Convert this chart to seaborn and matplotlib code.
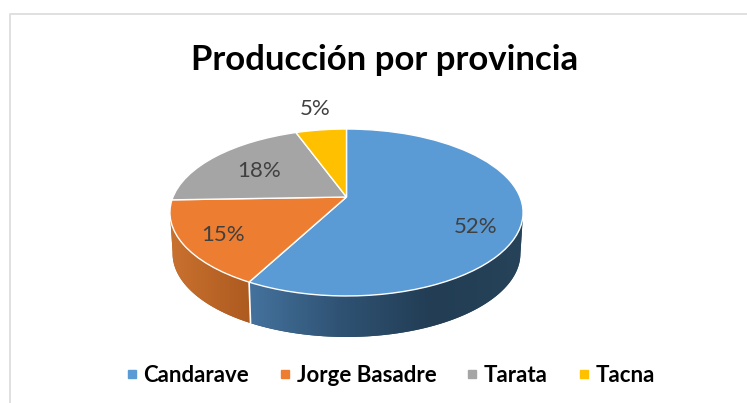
import numpy as np
import matplotlib
matplotlib.use("Agg")
import matplotlib.pyplot as plt
from matplotlib.lines import Line2D
from matplotlib.transforms import Transform
import seaborn as sns

title = "Producción por provincia"
provincias = ["Candarave", "Jorge Basadre", "Tarata", "Tacna"]
porcentajes = [52, 15, 18, 5]
colores = ["#5B9BD5", "#ED7D31", "#A5A5A5", "#FFC000"]

# where the percent labels sit, in pixels
label_pos = [(476, 227), (223, 235), (259, 171), (315, 109)]

sns.set_theme(style="white")
plt.rcParams["font.family"] = ["Lato", "DejaVu Sans"]

CX, CY = 346.5, 197      # pie apex in pixels
RX, RY, K = 173.5, 80.6, 0.1856   # tilt of the disc
DEPTH = 41


class Tilt(Transform):
    # unit circle -> tilted disc, in pixels
    input_dims = 2
    output_dims = 2

    def transform_non_affine(self, values):
        values = np.asarray(values, dtype=float)
        w = 1 + K * values[:, 1]
        return np.column_stack([CX + RX * values[:, 0] / w, CY - RY * values[:, 1] / w])


tilt = Tilt()


def rim(a0, a1, lower=False):
    t = np.radians(np.linspace(a0, a1, 80))
    xy = tilt.transform_non_affine(np.column_stack([np.cos(t), np.sin(t)]))
    if lower:
        xy[:, 0] = CX + 0.985 * (xy[:, 0] - CX)
        xy[:, 1] += DEPTH
    return xy


def wall(a0, a1, shades, x0, x1):
    xy = np.vstack([rim(a0, a1), rim(a1, a0, lower=True)])
    patch = ax.fill(xy[:, 0], xy[:, 1], color=shades[-1], lw=0, zorder=1)[0]
    img = ax.imshow(np.linspace(0, 1, 256)[None, :], cmap=sns.blend_palette(shades, as_cmap=True),
                    extent=(x0, x1, 345, 190), aspect="auto", zorder=1.5)
    img.set_clip_path(patch)


fig, ax = plt.subplots(figsize=(7.47, 4.03), dpi=100)
fig.subplots_adjust(0, 0, 1, 1)

wedges, _ = ax.pie(porcentajes, colors=sns.color_palette(colores), startangle=90, counterclock=False,
                   wedgeprops={"edgecolor": "white", "linewidth": 1.0, "zorder": 3})
for w in wedges:
    w.set_transform(tilt + ax.transData)

# side of the disc, only the two front slices show
corte = 90 - 360 * porcentajes[0] / sum(porcentajes)
wall(corte, -11, ["#44729D", "#2F5273", "#223D54", "#264359"], 250, 523)
wall(-170, corte, ["#C9712F", "#AD5A20"], 170, 252)
borde = np.vstack([rim(corte, corte), rim(corte, corte, lower=True)])
ax.plot(borde[[0, -1], 0], borde[[0, -1], 1], color="white", lw=1.2, zorder=2)

for p, (x, y) in zip(porcentajes, label_pos):
    ax.text(x, y, f"{p}%", ha="center", va="center", fontsize=16, color="#404040", zorder=4)

ax.text(385, 60, title, ha="center", va="center", fontsize=25, fontweight="bold", color="black")

# chart frame, cut off at the right and bottom
ax.plot([10, 10, 747], [403, 14, 14], color="#E0E0E0", lw=1.4, zorder=0)

handles = [Line2D([], [], ls="", marker="s", ms=5.2, color=c) for c in colores]
ax.legend(handles, provincias, ncol=4, loc="center", bbox_to_anchor=(390.5 / 747, 1 - 375 / 403),
          frameon=False, prop={"size": 16, "weight": "bold"}, handlelength=0.5,
          handletextpad=0.27, columnspacing=1.37, labelcolor="black")

ax.set_aspect("auto")
ax.set_xlim(0, 747)
ax.set_ylim(403, 0)
ax.axis("off")

fig.savefig("out.png", dpi=100)
